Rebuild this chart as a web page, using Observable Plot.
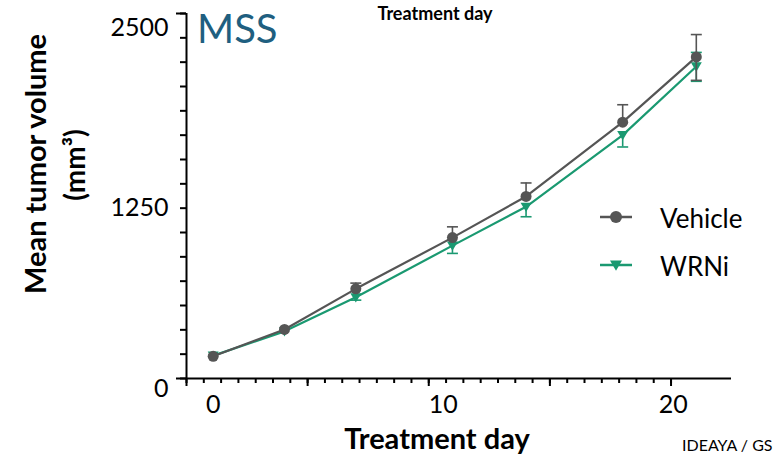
<!DOCTYPE html>
<html><head><meta charset="utf-8">
<script src="https://cdn.jsdelivr.net/npm/d3@7"></script>
<script src="https://cdn.jsdelivr.net/npm/@observablehq/plot@0.6"></script>
<style>body{margin:0;background:#fff;} svg{display:block;}</style>
</head><body><div id="chart"></div>
<script>
// ---- data ----
const days = [0, 3.1, 6.2, 10.4, 13.6, 17.8, 21];
const vehicleMean = [163, 360, 658, 1034, 1336, 1881, 2360];
const vehicleHi   = [163, 360, 700, 1113, 1435, 2009, 2524];
const vehicleLo   = [163, 360, 658, 1034, 1336, 1881, 2188];
const wrniMean    = [168, 346, 596, 975, 1260, 1786, 2290];
const wrniHi      = [168, 346, 596, 975, 1260, 1786, 2393];
const wrniLo      = [168, 346, 575, 918, 1187, 1699, 2181];
const seriesNames = ["Vehicle", "WRNi"];
const xTickLabels = [0, 10, 20];
const yTickLabels = [0, 1250, 2500];
const panelLabel = "MSS";
const xTitle = "Treatment day";
const yTitle1 = "Mean tumor volume";
const yTitle2 = "(mm³)";
const footnote = "IDEAYA / GS";

const colors = {Vehicle: "#555555", WRNi: "#1a9971"};
const rows = (name, mean, lo, hi) => days.map((d, i) => ({series: name, day: d, mean: mean[i], lo: lo[i], hi: hi[i]}));
const vRows = rows("Vehicle", vehicleMean, vehicleLo, vehicleHi);
const wRows = rows("WRNi", wrniMean, wrniLo, wrniHi);

const xStart = -1.16, xStep = 0.7522;
const xMinor = d3.range(29).map(k => xStart + k * xStep);
const xMajor = xMinor.filter((d, k) => k % 7 === 0);
const yStep = 1250 / 7;
const yMinor = d3.range(16).map(k => k * yStep);
const yLong = [0, yMinor[15]];

const capSymbol = {draw(ctx, size) { const r = Math.sqrt(size / Math.PI); ctx.moveTo(-r, 0); ctx.lineTo(r, 0); }};
const triDown = {draw(ctx, size) { const r = Math.sqrt(size / Math.PI); ctx.moveTo(-r, -r * 0.75); ctx.lineTo(r, -r * 0.75); ctx.lineTo(0, r * 0.95); ctx.closePath(); }};

function seriesMarks(data, color, symbol, r) {
  const up = data.filter(d => d.hi > d.mean), dn = data.filter(d => d.lo < d.mean);
  return [
    Plot.ruleX(up, {x: "day", y1: "mean", y2: "hi", stroke: color, strokeWidth: 1.6}),
    Plot.ruleX(dn, {x: "day", y1: "mean", y2: "lo", stroke: color, strokeWidth: 1.6}),
    Plot.dot(up, {x: "day", y: "hi", symbol: capSymbol, r: 5.5, stroke: color, strokeWidth: 1.6}),
    Plot.dot(dn, {x: "day", y: "lo", symbol: capSymbol, r: 5.5, stroke: color, strokeWidth: 1.6}),
    Plot.line(data, {x: "day", y: "mean", stroke: color, strokeWidth: 2.2}),
    Plot.dot(data, {x: "day", y: "mean", symbol, r, fill: color, stroke: "none"})
  ];
}

const fmt = d => String(d);
const plot = Plot.plot({
  width: 781, height: 455,
  marginLeft: 186, marginRight: 50, marginTop: 13, marginBottom: 77,
  style: {fontFamily: "Lato, sans-serif", fontSize: "25px", color: "black", background: "white", overflow: "hidden"},
  x: {domain: [xStart, xStart + 23.69]},
  y: {domain: [0, yMinor[15]]},
  marks: [
    Plot.axisX(xMinor, {tickSize: 5, tickFormat: () => "", strokeWidth: 2, label: null}),
    Plot.axisX(xMajor, {tickSize: 8, tickFormat: () => "", strokeWidth: 2, label: null}),
    Plot.axisX(xTickLabels, {tickSize: 0, tickPadding: 17, fontSize: 25, tickFormat: fmt, label: null}),
    Plot.axisY(yMinor, {tickSize: 6, tickFormat: () => "", strokeWidth: 2, label: null}),
    Plot.axisY(yLong, {tickSize: 10, tickFormat: () => "", strokeWidth: 2, label: null}),
    Plot.axisY([yTickLabels[2]], {tickSize: 0, tickPadding: 18, dy: -10, fontSize: 25, tickFormat: fmt, label: null}),
    Plot.axisY([yTickLabels[1]], {tickSize: 0, tickPadding: 18, fontSize: 25, tickFormat: fmt, label: null}),
    Plot.axisY([yTickLabels[0]], {tickSize: 0, tickPadding: 18, dy: 10, fontSize: 25, tickFormat: fmt, label: null}),
    Plot.ruleX([xStart], {strokeWidth: 2}),
    Plot.ruleY([0], {strokeWidth: 2}),
    ...seriesMarks(wRows, colors.WRNi, triDown, 5.5),
    ...seriesMarks(vRows, colors.Vehicle, "circle", 5.5)
  ]
});
document.getElementById("chart").appendChild(plot);

const svg = d3.select(plot);
const t = (x, y, txt, opts = {}) => svg.append("text").attr("x", x).attr("y", y)
  .attr("text-anchor", opts.anchor || "start").attr("dominant-baseline", opts.baseline || "alphabetic")
  .attr("font-size", opts.size || 25).attr("font-weight", opts.weight || "normal")
  .attr("fill", opts.fill || "black").attr("transform", opts.transform || null).text(txt);

t(435, 20, xTitle, {anchor: "middle", size: 18, weight: "bold"});
t(437, 449, xTitle, {anchor: "middle", size: 29, weight: "bold"});
t(0, 0, yTitle1, {anchor: "middle", baseline: "central", size: 29, weight: "bold", transform: "translate(34,164) rotate(-90)"});
t(0, 0, yTitle2, {anchor: "middle", baseline: "central", size: 28, weight: "bold", transform: "translate(74,165) rotate(-90)"});
t(197, 43, panelLabel, {size: 40, fill: "#1f5f80"});
t(682, 451, footnote, {size: 16});

// legend
const legend = [{name: seriesNames[0], y: 217, sym: d3.symbolCircle}, {name: seriesNames[1], y: 265, sym: triDown}];
legend.forEach(l => {
  const c = colors[l.name];
  svg.append("line").attr("x1", 600).attr("x2", 632).attr("y1", l.y).attr("y2", l.y).attr("stroke", c).attr("stroke-width", 2.5);
  svg.append("path").attr("d", d3.symbol(l.sym, Math.PI * 36)()).attr("transform", `translate(616,${l.y})`).attr("fill", c);
  t(660, l.y + 1, l.name, {baseline: "central", size: 26});
});
</script></body></html>
